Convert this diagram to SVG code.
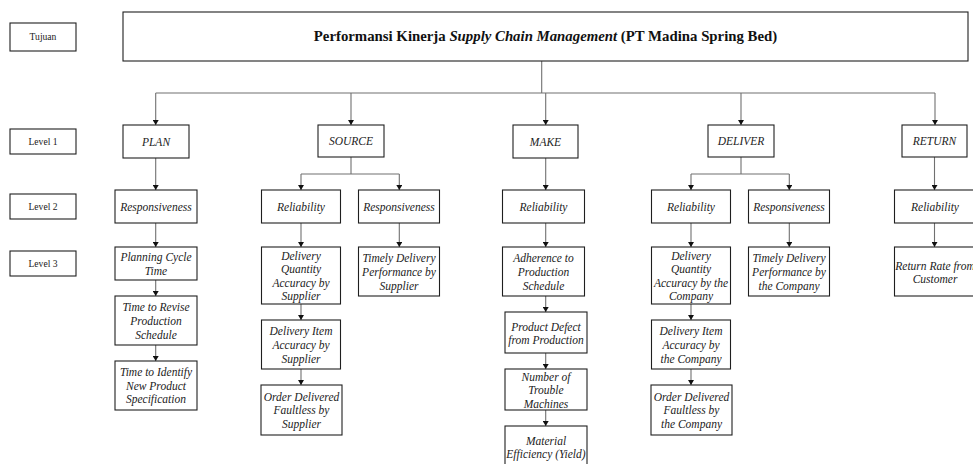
<svg xmlns="http://www.w3.org/2000/svg" width="973" height="464" viewBox="0 0 973 464" font-family="'Liberation Serif', 'Times New Roman', serif">
<defs>
<marker id="ah" viewBox="0 0 5 6" refX="5" refY="3" markerWidth="5" markerHeight="6" markerUnits="userSpaceOnUse" orient="auto">
<path d="M0,0 L5,3 L0,6 z" fill="#111"/>
</marker>
</defs>
<style>
rect{fill:#fff;stroke:#1f1f1f;stroke-width:1.1}
.c path{fill:none;stroke:#707070;stroke-width:1.1;marker-end:url(#ah)}
.c path.n{marker-end:none}
text{font-family:'Liberation Serif','Times New Roman',serif;fill:#222;text-anchor:middle}
.t{font-size:11.5px;font-style:italic}
.l{font-size:9.6px}
.h{font-size:14.8px;font-weight:bold;fill:#111}
</style>
<rect x="0" y="0" width="973" height="464" style="stroke:none;fill:#fff"/>
<g class="c" id="connectors">
<path class="n" d="M541.7,61 V93"/>
<path class="n" d="M155.7,93 H935"/>
<path d="M155.7,93 V125"/>
<path d="M351,93 V125"/>
<path d="M545.7,93 V125"/>
<path d="M741,93 V125"/>
<path d="M935,93 V125"/>
<path d="M155.7,158 V190"/>
<path d="M155.7,223 V247"/>
<path d="M155.7,280 V296"/>
<path d="M155.7,345 V361"/>
<path class="n" d="M351,157 V174 M301,174 H399.3"/>
<path d="M301,174 V190"/>
<path d="M399.3,174 V190"/>
<path d="M301,223 V247"/>
<path d="M399.3,223 V247"/>
<path d="M301,304 V320"/>
<path d="M301,369 V385"/>
<path d="M545.7,158 V190"/>
<path d="M545.7,223 V247"/>
<path d="M545.7,296 V312"/>
<path d="M545.7,353 V369"/>
<path d="M545.7,410 V426"/>
<path class="n" d="M741,157 V174 M691,174 H789.3"/>
<path d="M691,174 V190"/>
<path d="M789.3,174 V190"/>
<path d="M691,223 V247"/>
<path d="M789.3,223 V247"/>
<path d="M691,304 V320"/>
<path d="M691,369 V385"/>
<path d="M934.5,157 V190"/>
<path d="M934.5,223 V247"/>
</g>
<g id="goal"><rect x="123" y="12" width="845" height="49"/>
<text class="h" x="545.5" y="41.4">Performansi Kinerja <tspan font-style="italic">Supply Chain Management</tspan> (PT Madina Spring Bed)</text></g>
<g id="tujuan"><rect x="10" y="23" width="66" height="28"/><text class="l" x="43" y="40.3">Tujuan</text></g>
<g id="level1"><rect x="10" y="129" width="66" height="25"/><text class="l" x="43" y="144.8">Level 1</text></g>
<g id="level2"><rect x="10" y="194" width="66" height="25"/><text class="l" x="43" y="209.8">Level 2</text></g>
<g id="level3"><rect x="10" y="251" width="66" height="25"/><text class="l" x="43" y="266.8">Level 3</text></g>
<g id="plan"><rect x="123" y="125" width="66" height="33"/><text class="t" x="156" y="145.5">PLAN</text></g>
<g id="source"><rect x="318" y="125" width="66" height="32"/><text class="t" x="351" y="145">SOURCE</text></g>
<g id="make"><rect x="513" y="125" width="65" height="33"/><text class="t" x="545.5" y="145.5">MAKE</text></g>
<g id="deliver"><rect x="708" y="125" width="66" height="32"/><text class="t" x="741" y="145">DELIVER</text></g>
<g id="return"><rect x="902" y="125" width="65" height="32"/><text class="t" x="934.5" y="145">RETURN</text></g>
<g id="plan-resp"><rect x="115" y="190" width="82" height="33"/><text class="t" x="156" y="210.5">Responsiveness</text></g>
<g id="source-rel"><rect x="261.5" y="190" width="79" height="33"/><text class="t" x="301" y="210.5">Reliability</text></g>
<g id="source-resp"><rect x="358.5" y="190" width="81" height="33"/><text class="t" x="399" y="210.5">Responsiveness</text></g>
<g id="make-rel"><rect x="502.5" y="190" width="82" height="33"/><text class="t" x="543.5" y="210.5">Reliability</text></g>
<g id="deliver-rel"><rect x="651.5" y="190" width="79" height="33"/><text class="t" x="691" y="210.5">Reliability</text></g>
<g id="deliver-resp"><rect x="748.5" y="190" width="81" height="33"/><text class="t" x="789" y="210.5">Responsiveness</text></g>
<g id="return-rel"><rect x="894.5" y="190" width="81" height="33"/><text class="t" x="935" y="210.5">Reliability</text></g>
<g id="planning-cycle"><rect x="115" y="247" width="82" height="33"/><text class="t" x="156" y="260.5">Planning Cycle</text><text class="t" x="156" y="274.5">Time</text></g>
<g id="time-revise"><rect x="115" y="296" width="82" height="49"/><text class="t" x="156" y="311.3">Time to Revise</text><text class="t" x="156" y="324.9">Production</text><text class="t" x="156" y="338.5">Schedule</text></g>
<g id="time-identify"><rect x="115" y="361" width="82" height="49"/><text class="t" x="156" y="376">Time to Identify</text><text class="t" x="156" y="389.6">New Product</text><text class="t" x="156" y="403.2">Specification</text></g>
<g id="src-dq"><rect x="261.5" y="247" width="79" height="57"/><text class="t" x="301" y="259.6">Delivery</text><text class="t" x="301" y="273.2">Quantity</text><text class="t" x="301" y="286.8">Accuracy by</text><text class="t" x="301" y="300.4">Supplier</text></g>
<g id="src-di"><rect x="261.5" y="320" width="79" height="49"/><text class="t" x="301" y="335.3">Delivery Item</text><text class="t" x="301" y="348.9">Accuracy by</text><text class="t" x="301" y="362.5">Supplier</text></g>
<g id="src-od"><rect x="261" y="385" width="81" height="50"/><text class="t" x="301.5" y="400.8">Order Delivered</text><text class="t" x="301.5" y="414.4">Faultless by</text><text class="t" x="301.5" y="428">Supplier</text></g>
<g id="src-timely"><rect x="358.5" y="247" width="81" height="49"/><text class="t" x="399" y="262.3">Timely Delivery</text><text class="t" x="399" y="275.9">Performance by</text><text class="t" x="399" y="289.5">Supplier</text></g>
<g id="make-adh"><rect x="502.5" y="247" width="82" height="49"/><text class="t" x="543.5" y="262.3">Adherence to</text><text class="t" x="543.5" y="275.9">Production</text><text class="t" x="543.5" y="289.5">Schedule</text></g>
<g id="make-defect"><rect x="505" y="312" width="82" height="41"/><text class="t" x="546" y="330.5">Product Defect</text><text class="t" x="546" y="344.1">from Production</text></g>
<g id="make-trouble"><rect x="505" y="369" width="82" height="41"/><text class="t" x="546" y="380.5">Number of</text><text class="t" x="546" y="394.1">Trouble</text><text class="t" x="546" y="407.7">Machines</text></g>
<g id="make-material"><rect x="505" y="426" width="82" height="48"/><text class="t" x="546" y="444.5">Material</text><text class="t" x="546" y="458.1">Efficiency (Yield)</text></g>
<g id="del-dq"><rect x="651.5" y="247" width="79" height="57"/><text class="t" x="691" y="259.6">Delivery</text><text class="t" x="691" y="273.2">Quantity</text><text class="t" x="691" y="286.8">Accuracy by the</text><text class="t" x="691" y="300.4">Company</text></g>
<g id="del-di"><rect x="651.5" y="320" width="79" height="49"/><text class="t" x="691" y="335.3">Delivery Item</text><text class="t" x="691" y="348.9">Accuracy by</text><text class="t" x="691" y="362.5">the Company</text></g>
<g id="del-od"><rect x="651" y="385" width="81" height="50"/><text class="t" x="691.5" y="400.8">Order Delivered</text><text class="t" x="691.5" y="414.4">Faultless by</text><text class="t" x="691.5" y="428">the Company</text></g>
<g id="del-timely"><rect x="748.5" y="247" width="81" height="49"/><text class="t" x="789" y="262.3">Timely Delivery</text><text class="t" x="789" y="275.9">Performance by</text><text class="t" x="789" y="289.5">the Company</text></g>
<g id="return-rate"><rect x="894.5" y="247" width="81" height="49"/><text class="t" x="935" y="269.5">Return Rate from</text><text class="t" x="935" y="283.1">Customer</text></g>
</svg>
